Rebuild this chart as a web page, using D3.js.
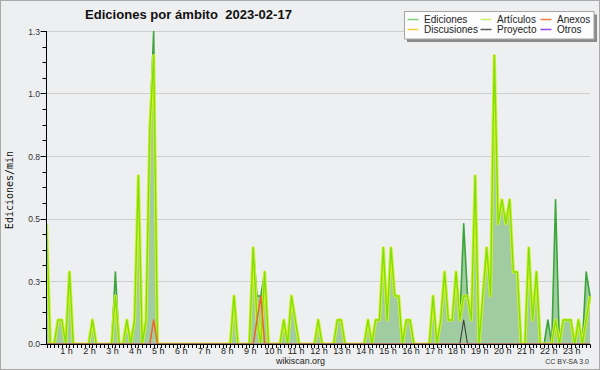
<!DOCTYPE html>
<html><head><meta charset="utf-8">
<script src="https://cdn.jsdelivr.net/npm/d3@7/dist/d3.min.js"></script>
<style>body{margin:0;background:#eeeff0}svg{display:block}</style>
</head><body><svg id="c" width="600" height="370"></svg>
<script>
// ---- data (edits per minute, 10-minute buckets, 2023-02-17) ----
const hourLabels = ["1 h","2 h","3 h","4 h","5 h","6 h","7 h","8 h","9 h","10 h","11 h","12 h",
  "13 h","14 h","15 h","16 h","17 h","18 h","19 h","20 h","21 h","22 h","23 h"];
const yTickValues = [0, 0.25, 0.5, 0.75, 1.0, 1.25];
const yTickLabels = ["0.0","0.3","0.5","0.8","1.0","1.3"];
const seriesNames = ["Ediciones","Artículos","Anexos","Discusiones","Proyecto","Otros"];

const ediciones = [
 0.481,0,0,0.096,0.096,0,0.288,0,0,0,
 0,0,0.096,0,0,0,0,0,0.288,0,
 0,0.096,0,0.096,0.673,0,0.096,0.865,1.25,0,
 0,0,0,0,0,0,0,0,0,0,
 0,0,0,0,0,0,0,0,0,0.192,
 0,0,0,0,0.385,0.192,0.192,0.288,0,0,
 0,0,0.096,0,0.192,0.096,0,0,0,0,
 0,0.096,0,0,0,0,0.096,0.096,0,0,
 0,0,0,0,0.096,0,0.096,0.096,0.385,0.096,
 0.385,0.192,0.192,0,0.096,0.096,0,0,0,0,
 0,0.192,0,0.096,0.288,0.096,0.096,0.288,0.096,0.481,
 0.192,0.096,0.673,0,0.192,0.385,0.192,1.154,0.481,0.577,
 0.481,0.577,0.288,0.288,0,0,0.385,0.096,0.288,0,
 0,0.096,0,0.577,0,0.096,0.096,0.096,0,0.096,
 0,0.288,0.192];
const articulos = [
 0.481,0,0,0.096,0.096,0,0.288,0,0,0,
 0,0,0.096,0,0,0,0,0,0.192,0,
 0,0.096,0,0.096,0.673,0,0.096,0.865,1.154,0,
 0,0,0,0,0,0,0,0,0,0,
 0,0,0,0,0,0,0,0,0,0.192,
 0,0,0,0,0.385,0.096,0,0.288,0,0,
 0,0,0.096,0,0.192,0.096,0,0,0,0,
 0,0.096,0,0,0,0,0.096,0.096,0,0,
 0,0,0,0,0.096,0,0.096,0.096,0.385,0.096,
 0.385,0.192,0.192,0,0.096,0.096,0,0,0,0,
 0,0.192,0,0.096,0.288,0.096,0.096,0.288,0.096,0.192,
 0.192,0.096,0.673,0,0.192,0.385,0.192,1.154,0.481,0.577,
 0.481,0.577,0.288,0.288,0,0,0.385,0.096,0.288,0,
 0,0,0,0.096,0,0.096,0.096,0.096,0,0.096,
 0,0.096,0.192];
const anexos = [
 0,0,0,0,0,0,0,0,0,0, 0,0,0,0,0,0,0,0,0,0,
 0,0,0,0,0,0,0,0,0.096,0, 0,0,0,0,0,0,0,0,0,0,
 0,0,0,0,0,0,0,0,0,0, 0,0,0,0,0,0.096,0.192,0,0,0,
 0,0,0,0,0,0,0,0,0,0, 0,0,0,0,0,0,0,0,0,0,
 0,0,0,0,0,0,0,0,0,0, 0,0,0,0,0,0,0,0,0,0,
 0,0,0,0,0,0,0,0,0,0, 0,0,0,0,0,0,0,0,0,0,
 0,0,0,0,0,0,0,0,0,0, 0,0,0,0,0,0,0,0,0,0,
 0,0,0];
const discusiones = [
 0,0,0,0,0,0,0,0,0,0, 0,0,0,0,0,0,0,0,0,0,
 0,0,0,0,0,0,0,0,0,0, 0,0,0,0,0,0,0,0,0,0,
 0,0,0,0,0,0,0,0,0,0, 0,0,0,0,0,0,0,0,0,0,
 0,0,0,0,0,0,0,0,0,0, 0,0,0,0,0,0,0,0,0,0,
 0,0,0,0,0,0,0,0,0,0, 0,0,0,0,0,0,0,0,0,0,
 0,0,0,0,0,0,0,0,0,0, 0,0,0,0,0,0,0,0,0,0,
 0,0,0,0,0,0,0,0,0,0, 0,0,0,0,0,0,0,0,0,0,
 0,0,0];
const proyecto = [
 0,0,0,0,0,0,0,0,0,0, 0,0,0,0,0,0,0,0,0,0,
 0,0,0,0,0,0,0,0,0,0, 0,0,0,0,0,0,0,0,0,0,
 0,0,0,0,0,0,0,0,0,0, 0,0,0,0,0,0,0,0,0,0,
 0,0,0,0,0,0,0,0,0,0, 0,0,0,0,0,0,0,0,0,0,
 0,0,0,0,0,0,0,0,0,0, 0,0,0,0,0,0,0,0,0,0,
 0,0,0,0,0,0,0,0,0,0.096, 0,0,0,0,0,0,0,0,0,0,
 0,0,0,0,0,0,0,0,0,0, 0,0,0,0,0,0,0,0,0,0,
 0,0,0];
const otros = [
 0,0,0,0,0,0,0,0,0,0, 0,0,0,0,0,0,0,0,0,0,
 0,0,0,0,0,0,0,0,0,0, 0,0,0,0,0,0,0,0,0,0,
 0,0,0,0,0,0,0,0,0,0, 0,0,0,0,0,0,0,0,0,0,
 0,0,0,0,0,0,0,0,0,0, 0,0,0,0,0,0,0,0,0,0,
 0,0,0,0,0,0,0,0,0,0, 0,0,0,0,0,0,0,0,0,0,
 0,0,0,0,0,0,0,0,0,0, 0,0,0,0,0,0,0,0,0,0,
 0,0,0,0,0,0,0,0,0,0, 0,0,0,0,0,0,0,0,0,0,
 0,0,0];

// ---- drawing ----
const svg = d3.select("#c");
const W = 600, H = 370;
const x = d3.scaleLinear().domain([0, ediciones.length - 1]).range([46.5, 590]);
const y = d3.scaleLinear().domain([0, 1.25]).range([344, 31.5]);

svg.append("rect").attr("x",0.5).attr("y",0.5).attr("width",W-1).attr("height",H-1)
  .attr("fill","#eeeff0").attr("stroke","#a9a9a9");

// grid
svg.append("g").selectAll("line").data(yTickValues.filter(v=>v>0)).join("line")
  .attr("x1",47).attr("x2",590)
  .attr("y1",v=>Math.floor(y(v))+0.5).attr("y2",v=>Math.floor(y(v))+0.5)
  .attr("stroke","#cfcfcf").attr("stroke-width",1);

// clip for series
svg.append("clipPath").attr("id","pc").append("rect")
  .attr("x",46).attr("y",20).attr("width",545).attr("height",323.4);
const g = svg.append("g").attr("clip-path","url(#pc)");

const idx = d3.range(ediciones.length);
const area = d3.area().x(i=>x(i)).y0(y(0)).y1(i=>y(ediciones[i]));
const lineOf = arr => d3.line().x(i=>x(i)).y(i=>y(arr[i]))(idx);

g.append("path").attr("d",area(idx)).attr("fill","#a1cba1");
g.append("path").attr("d",lineOf(ediciones)).attr("fill","none")
  .attr("stroke","#3aa53a").attr("stroke-width",1.6).attr("stroke-linejoin","round");
g.append("path").attr("d",lineOf(articulos)).attr("fill","none")
  .attr("stroke","#d6f032").attr("stroke-width",3.2).attr("stroke-linejoin","round");
g.append("path").attr("d",lineOf(articulos)).attr("fill","none")
  .attr("stroke","#7fe00c").attr("stroke-width",1.4).attr("stroke-linejoin","round");
g.append("path").attr("d",lineOf(discusiones)).attr("fill","none")
  .attr("stroke","#f2cf3a").attr("stroke-width",1.4);
g.append("path").attr("d",lineOf(otros)).attr("fill","none")
  .attr("stroke","#9a45ee").attr("stroke-width",1.4);
g.append("path").attr("d",lineOf(anexos)).attr("fill","none")
  .attr("stroke","#f0622a").attr("stroke-width",1.5).attr("stroke-linejoin","round");
g.append("path").attr("d",lineOf(proyecto)).attr("fill","none")
  .attr("stroke","#3c3c3c").attr("stroke-width",1.1).attr("stroke-linejoin","round");

// y axis
const ya = svg.append("g");
ya.append("line").attr("x1",46.5).attr("x2",46.5).attr("y1",31).attr("y2",344.5)
  .attr("stroke","#000");
const minor = d3.range(0, 1.25 + 1e-9, 0.0625);
ya.selectAll("line.t").data(minor).join("line").attr("class","t")
  .attr("x1",v => (Math.abs(v/0.25 - Math.round(v/0.25))<1e-6) ? 40.5 : 42.5).attr("x2",46.5)
  .attr("y1",v=>Math.floor(y(v))+0.5).attr("y2",v=>Math.floor(y(v))+0.5)
  .attr("stroke","#000");
ya.selectAll("text").data(yTickValues).join("text")
  .attr("x",40).attr("y",v=>y(v)+3)
  .attr("text-anchor","end").attr("font-family","Liberation Sans, Arial, sans-serif")
  .attr("font-size",8.5).attr("fill","#333").text((v,i)=>yTickLabels[i]);

// x axis
const xa = svg.append("g");
xa.append("line").attr("x1",46).attr("x2",590.5).attr("y1",344.5).attr("y2",344.5)
  .attr("stroke","#000");
xa.selectAll("line.t").data(idx).join("line").attr("class","t")
  .attr("x1",i=>Math.round(x(i))+0.5).attr("x2",i=>Math.round(x(i))+0.5)
  .attr("y1",344.5).attr("y2",348).attr("stroke","#000");
xa.selectAll("text").data(hourLabels).join("text")
  .attr("x",(d,k)=>x((k+1)*6)-3).attr("y",354)
  .attr("text-anchor","middle").attr("font-family","Liberation Sans, Arial, sans-serif")
  .attr("font-size",9).attr("fill","#222").text(d=>d);

// titles
svg.append("text").attr("x",85).attr("y",18.5)
  .attr("font-family","Liberation Sans, Arial, sans-serif").attr("font-weight","bold")
  .attr("font-size",13).attr("fill","#111")
  .attr("textLength",207).attr("lengthAdjust","spacingAndGlyphs")
  .style("white-space","pre").text("Ediciones por ámbito  2023-02-17");
svg.append("text").attr("transform","translate(13,190) rotate(-90)")
  .attr("text-anchor","middle").attr("font-family","DejaVu Sans Mono, monospace")
  .attr("font-size",10).attr("fill","#111").text("Ediciones/min");
svg.append("text").attr("x",276).attr("y",364)
  .attr("font-family","Liberation Sans, Arial, sans-serif").attr("font-size",9.5)
  .attr("fill","#222").attr("textLength",49).attr("lengthAdjust","spacingAndGlyphs")
  .text("wikiscan.org");
svg.append("text").attr("x",589).attr("y",364).attr("text-anchor","end")
  .attr("font-family","Liberation Sans, Arial, sans-serif").attr("font-size",7)
  .attr("fill","#333").text("CC BY-SA 3.0");

// legend
const lg = svg.append("g");
lg.append("rect").attr("x",407).attr("y",14.5).attr("width",190).attr("height",27.5).attr("fill","#8a8a8a");
lg.append("rect").attr("x",404.5).attr("y",11.5).attr("width",189.5).attr("height",27.5)
  .attr("fill","#fcfcfc").attr("stroke","#a5a5a5");
const legColors = ["#7fd07f","#cdf06a","#f08048","#f4d03e","#5a5a5a","#9a48ee"];
const colX = [407.5, 480.5, 540.5];
const rowY = [19.5, 29.5];
const legOrder = [[0,0,0],[1,1,0],[2,2,0],[3,0,1],[4,1,1],[5,2,1]];
legOrder.forEach(([s,c,r])=>{
  lg.append("line").attr("x1",colX[c]).attr("x2",colX[c]+11)
    .attr("y1",rowY[r]).attr("y2",rowY[r]).attr("stroke",legColors[s]).attr("stroke-width",1.5);
  lg.append("text").attr("x",colX[c]+16.5).attr("y",rowY[r]+3.5)
    .attr("font-family","Liberation Sans, Arial, sans-serif").attr("font-size",10)
    .attr("fill","#222").text(seriesNames[s]);
});
</script></body></html>
